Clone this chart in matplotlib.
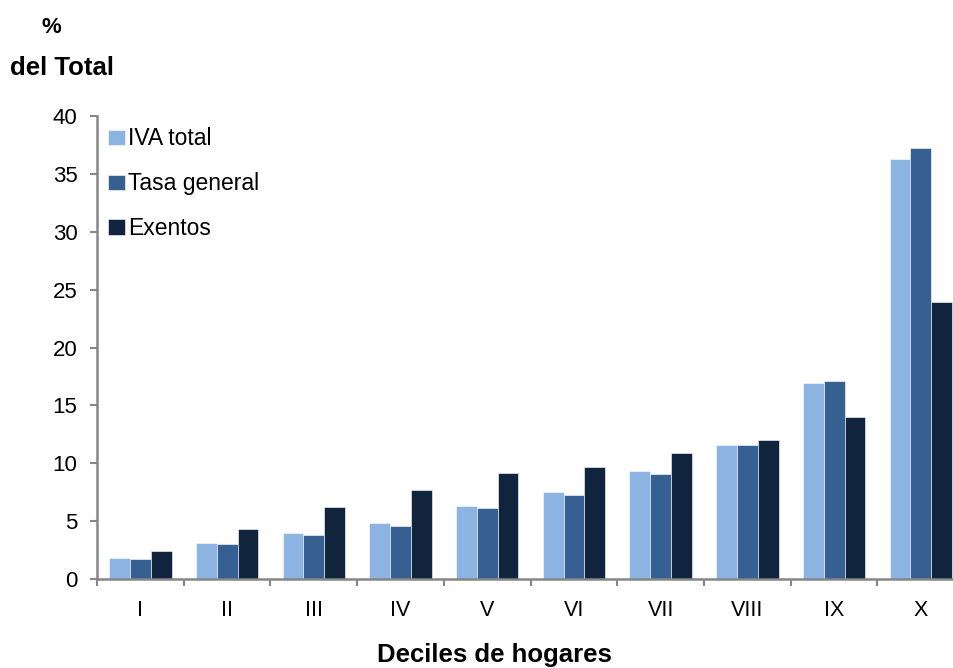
import numpy as np
import matplotlib
matplotlib.use('Agg')
import matplotlib.pyplot as plt

plt.rcParams['font.family'] = ['Liberation Sans', 'DejaVu Sans']

deciles = ['I', 'II', 'III', 'IV', 'V', 'VI', 'VII', 'VIII', 'IX', 'X']
iva_total = [1.8, 3.1, 4.0, 4.8, 6.3, 7.5, 9.3, 11.6, 16.9, 36.3]
tasa_general = [1.7, 3.0, 3.8, 4.6, 6.1, 7.3, 9.1, 11.6, 17.1, 37.2]
exentos = [2.4, 4.3, 6.2, 7.7, 9.2, 9.7, 10.9, 12.0, 14.0, 23.9]

colores = ['#8DB3E2', '#366092', '#10243E']
gris = '#868686'

fig = plt.figure(figsize=(9.54, 6.68), dpi=100)
ax = fig.add_axes([0.1017, 0.1332, 0.909, 0.6931])

x = np.arange(len(deciles))
w = 0.24
for i, (vals, lab) in enumerate(zip([iva_total, tasa_general, exentos],
                                    ['IVA total', 'Tasa general', 'Exentos'])):
    ax.bar(x + (i - 1) * w, vals, w, color=colores[i], label=lab,
           edgecolor='white', linewidth=0.4)

ax.set_xlim(-0.5, len(deciles) - 0.5)
ax.set_ylim(0, 40)
ax.set_yticks(range(0, 41, 5))

# category labels at centres, ticks at the boundaries
ax.set_xticks(np.arange(-0.5, len(deciles), 1))
ax.set_xticklabels([])
ax.set_xticks(x, minor=True)
ax.set_xticklabels(deciles, minor=True)
ax.tick_params(axis='x', which='minor', length=0, pad=15, labelsize=15.5)
ax.tick_params(axis='x', which='major', length=5, width=1.5, color=gris)
ax.tick_params(axis='y', length=5, width=1.5, color=gris, labelsize=16, pad=9)

for s in ['top', 'right']:
    ax.spines[s].set_visible(False)
for s in ['left', 'bottom']:
    ax.spines[s].set_color(gris)
    ax.spines[s].set_linewidth(1.8)

leg = ax.legend(loc='upper left', bbox_to_anchor=(0.0, 1.0), frameon=False,
                fontsize=16.5, handlelength=0.72, handleheight=0.65,
                handletextpad=0.15, labelspacing=0.95, borderaxespad=0.2,
                borderpad=0.3)

fig.text(0.054, 0.9506, '%', fontsize=16, fontweight='bold', ha='center', va='baseline')
fig.text(0.011, 0.8877, 'del Total', fontsize=18.5, fontweight='bold', ha='left', va='baseline')
fig.text(0.518, 0.009, 'Deciles de hogares', fontsize=18.5, fontweight='bold',
         ha='center', va='baseline')

fig.savefig('out.png', dpi=100)
